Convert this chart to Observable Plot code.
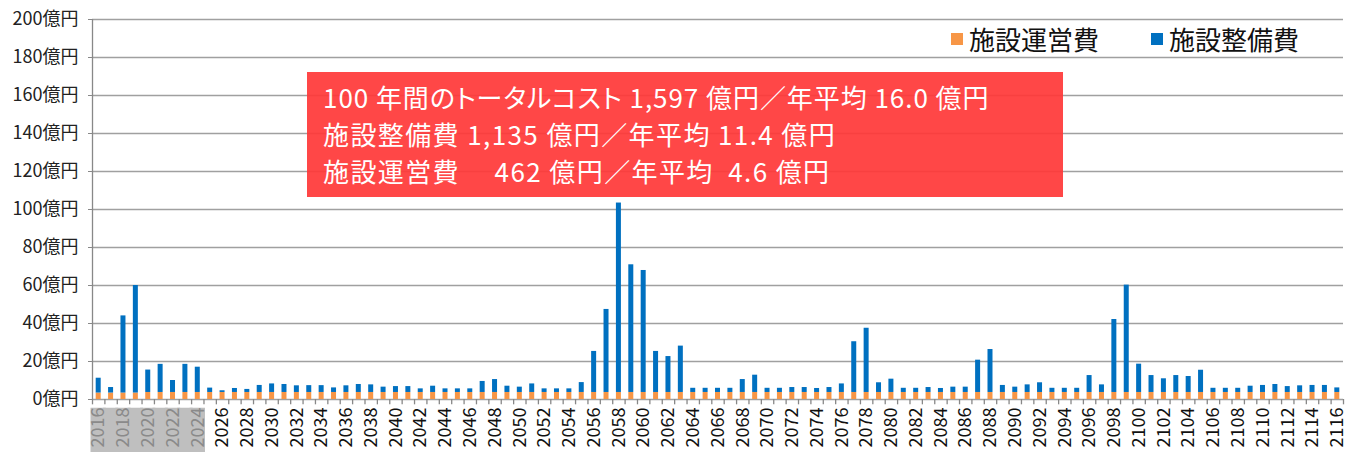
<!DOCTYPE html>
<html>
<head>
<meta charset="utf-8">
<script src="https://cdn.jsdelivr.net/npm/d3@7"></script>
<script src="https://cdn.jsdelivr.net/npm/@observablehq/plot@0.6"></script>
<style>
  html, body { margin: 0; padding: 0; background: #fff; }
  #wrap { position: relative; width: 1345px; height: 452px; font-family: "Noto Sans CJK JP", sans-serif; }
  #legend { position: absolute; top: 20px; left: 951px; display: flex; align-items: center; font-size: 26px; color: #111; white-space: nowrap; }
  #legend .item { display: flex; align-items: center; margin-right: 52px; white-space: nowrap; }
  #legend .sw { width: 12px; height: 12px; margin-right: 6px; flex: none; }
  #box { position: absolute; left: 307px; top: 72px; width: 756px; height: 125px; background: rgba(255,55,55,0.92);
         color: #fff; font-size: 26px; line-height: 37px; padding: 6px 0 0 16px; box-sizing: border-box; white-space: pre; letter-spacing: 1.4px; }
  #box .l1 { font-feature-settings: "palt"; letter-spacing: 0.95px; }
</style>
</head>
<body>
<div id="wrap">
  <div id="chart"></div>
  <div id="legend"></div>
  <div id="box"></div>
</div>
<script>
const years = d3.range(2016, 2117).map(String);
const seriesNames = ["施設運営費", "施設整備費"];
const seriesColors = ["#F79646", "#0070C0"];

// 施設運営費 (億円)
const operating = [
  3.4, 3.4, 3.4, 3.4, 3.7, 3.7, 3.7, 3.7, 3.7, 3.7,
  3.7, 3.7, 3.7, 3.7, 3.7, 3.7, 3.7, 3.7, 3.7, 3.7,
  3.7, 3.7, 3.7, 3.7, 3.7, 3.7, 3.7, 3.7, 3.7, 3.7,
  3.7, 3.7, 3.7, 3.7, 3.7, 3.7, 3.7, 3.7, 3.7, 3.7,
  3.7, 3.7, 3.7, 3.7, 3.7, 3.7, 3.7, 3.7, 3.7, 3.7,
  3.7, 3.7, 3.7, 3.7, 3.7, 3.7, 3.7, 3.7, 3.7, 3.7,
  3.7, 3.7, 3.7, 3.7, 3.7, 3.7, 3.7, 3.7, 3.7, 3.7,
  3.7, 3.7, 3.7, 3.7, 3.7, 3.7, 3.7, 3.7, 3.7, 3.7,
  3.7, 3.7, 3.7, 3.7, 3.7, 3.7, 3.7, 3.7, 3.7, 3.7,
  3.7, 3.7, 3.7, 3.7, 3.7, 3.7, 3.7, 3.7, 3.7, 3.7,
  3.7
];

// 施設整備費 (億円)
const maintenance = [
  7.8, 2.9, 40.6, 56.6, 11.8, 14.8, 6.3, 14.8, 13.3, 2.3,
  0.9, 2.1, 1.6, 3.7, 4.5, 4.2, 3.5, 3.6, 3.6, 2.4,
  3.5, 4.2, 4.0, 2.8, 3.1, 3.1, 1.9, 3.3, 1.9, 1.9,
  1.9, 5.8, 6.8, 3.3, 2.8, 4.5, 1.9, 1.9, 1.9, 5.2,
  21.6, 43.7, 99.7, 67.2, 64.2, 21.6, 18.9, 24.4, 2.2, 2.2,
  2.2, 2.2, 6.8, 9.1, 2.2, 2.2, 2.6, 2.6, 2.1, 2.6,
  4.5, 26.7, 33.8, 5.1, 7.0, 2.2, 2.2, 2.6, 2.1, 2.8,
  2.8, 17.0, 22.6, 3.7, 2.8, 4.0, 5.1, 2.2, 2.2, 2.2,
  8.9, 4.0, 38.4, 56.5, 14.9, 8.9, 7.2, 8.9, 8.4, 11.7,
  2.2, 2.2, 2.2, 3.3, 3.7, 4.2, 3.1, 3.5, 3.7, 3.7,
  2.4
];

const yTicks = [0, 20, 40, 60, 80, 100, 120, 140, 160, 180, 200];
const grayYears = ["2016", "2018", "2020", "2022", "2024"];
const shadedYears = ["2016", "2017", "2018", "2019", "2020", "2021", "2022", "2023", "2024"];
const blackYears = years.filter(y => +y % 2 === 0 && !grayYears.includes(y));

const summaryLines = [
  "100 年間のトータルコスト 1,597 億円／年平均 16.0 億円",
  "施設整備費 1,135 億円／年平均 11.4 億円",
  "施設運営費　 462 億円／年平均  4.6 億円"
];

const data = [];
years.forEach((y, i) => {
  data.push({year: y, series: seriesNames[0], value: operating[i]});
  data.push({year: y, series: seriesNames[1], value: maintenance[i]});
});

const W = 1345, H = 452, ML = 92, MR = 2, MT = 19, MB = 53;
const step = (W - ML - MR) / years.length;
const inset = (step - 5) / 2;

const plot = Plot.plot({
  width: W, height: H,
  marginLeft: ML, marginRight: MR, marginTop: MT, marginBottom: MB,
  style: {fontFamily: "'Noto Sans CJK JP', sans-serif", fontSize: "18px", background: "transparent"},
  x: {type: "band", domain: years, padding: 0, axis: null, label: null},
  y: {domain: [0, 200], axis: null, label: null},
  color: {domain: seriesNames, range: seriesColors},
  marks: [
    Plot.barY(shadedYears, {x: d => d, y1: -4.6, y2: -30, fill: "#BFBFBF", insetLeft: -1.5, insetRight: -1.5}),
    Plot.ruleY(yTicks, {y: d => d, stroke: "#A0A0A0", strokeWidth: 1.3}),
    Plot.barY(data, Plot.stackY({order: seriesNames}, {x: "year", y: "value", fill: "series", insetLeft: inset, insetRight: inset})),
    Plot.ruleX(years, {x: d => d, y1: 0, y2: -2.8, dx: -step / 2, stroke: "#888", strokeWidth: 1.3}),
    Plot.ruleX([years[years.length - 1]], {x: d => d, y1: 0, y2: -2.8, dx: step / 2, stroke: "#888", strokeWidth: 1.3}),
    Plot.ruleX([years[0]], {x: d => d, y1: 0, y2: 200, dx: -step / 2, stroke: "#888", strokeWidth: 1.3}),
    Plot.axisY({ticks: yTicks, tickFormat: d => d + "億円", tickSize: 4, tickPadding: 10, fontSize: 18, stroke: "#888", color: "#222", anchor: "left", label: null}),
    Plot.axisX({ticks: blackYears, tickRotate: -90, tickSize: 0, tickPadding: 8, fontSize: 18, color: "#111", label: null}),
    Plot.axisX({ticks: grayYears, tickRotate: -90, tickSize: 0, tickPadding: 8, fontSize: 18, color: "#8A8A8A", label: null})
  ]
});
document.getElementById("chart").appendChild(plot);

const legend = document.getElementById("legend");
seriesNames.forEach((n, i) => {
  const it = document.createElement("div");
  it.className = "item";
  it.innerHTML = `<div class="sw" style="background:${seriesColors[i]}"></div><span>${n}</span>`;
  legend.appendChild(it);
});

const box = document.getElementById("box");
summaryLines.forEach((t, i) => {
  const d = document.createElement("div");
  d.className = "l" + (i + 1);
  d.textContent = t;
  box.appendChild(d);
});
</script>
</body>
</html>
